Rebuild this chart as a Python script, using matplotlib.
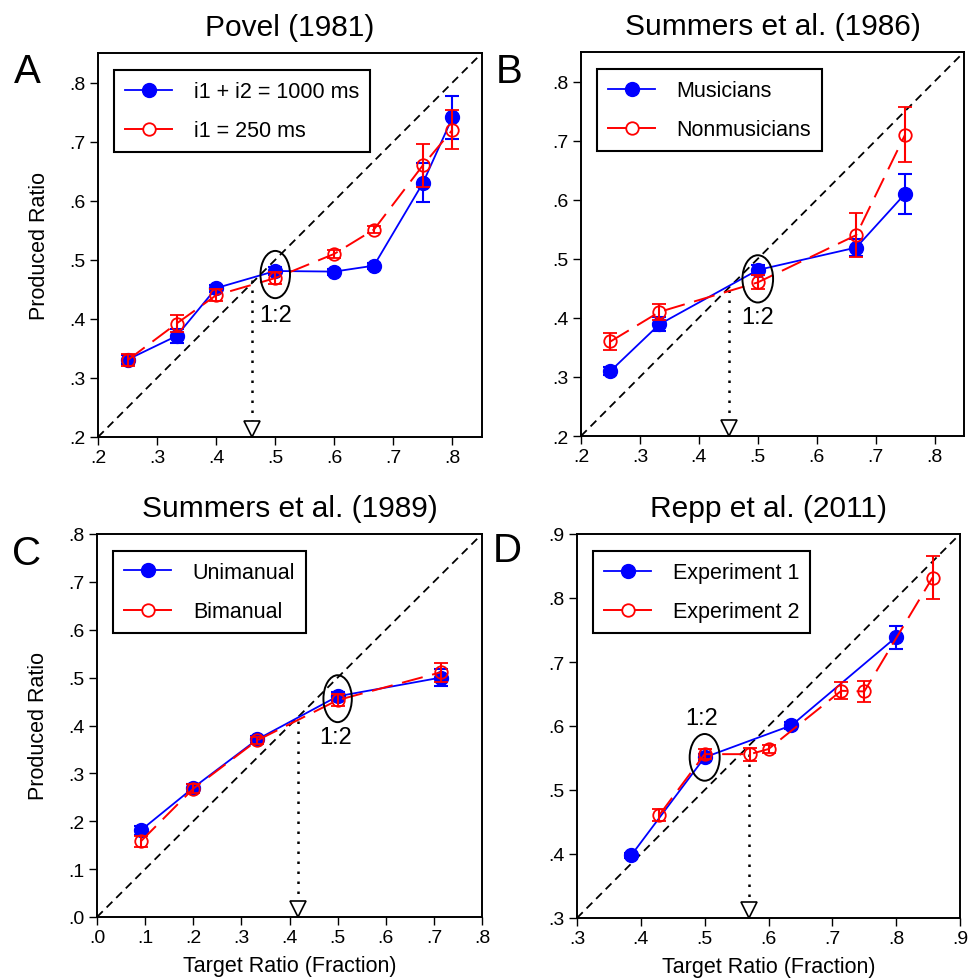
import matplotlib
matplotlib.use('Agg')
import matplotlib.pyplot as plt
from matplotlib.lines import Line2D
from matplotlib.patches import Ellipse
from matplotlib.ticker import FuncFormatter

plt.rcParams['font.family'] = ['Liberation Sans', 'DejaVu Sans']

# Panel A: Povel (1981)
povel_x = [0.25, 0.333, 0.4, 0.5, 0.6, 0.667, 0.75, 0.8]
povel_sum_y = [0.331, 0.371, 0.452, 0.481, 0.480, 0.490, 0.630, 0.741]
povel_sum_err = [0.008, 0.012, 0.006, 0.006, 0.005, 0.005, 0.033, 0.037]
povel_i1_y = [0.330, 0.392, 0.440, 0.469, 0.510, 0.551, 0.660, 0.720]
povel_i1_err = [0.010, 0.014, 0.010, 0.010, 0.007, 0.006, 0.036, 0.033]

# Panel B: Summers et al. (1986)
summers86_x = [0.25, 0.333, 0.5, 0.667, 0.75]
summers86_mus_y = [0.310, 0.389, 0.481, 0.519, 0.610]
summers86_mus_err = [0.007, 0.012, 0.008, 0.015, 0.034]
summers86_non_y = [0.360, 0.410, 0.460, 0.540, 0.710]
summers86_non_err = [0.015, 0.013, 0.012, 0.037, 0.047]

# Panel C: Summers et al. (1989)
summers89_x = [0.091, 0.2, 0.333, 0.5, 0.714]
summers89_uni_y = [0.181, 0.270, 0.371, 0.461, 0.500]
summers89_uni_err = [0.010, 0.008, 0.008, 0.010, 0.017]
summers89_bi_y = [0.158, 0.268, 0.369, 0.453, 0.511]
summers89_bi_err = [0.012, 0.010, 0.008, 0.012, 0.020]

# Panel D: Repp et al. (2011)
repp_exp1_x = [0.385, 0.5, 0.636, 0.8]
repp_exp1_y = [0.398, 0.551, 0.601, 0.739]
repp_exp1_err = [0.004, 0.006, 0.006, 0.018]
repp_exp2_x = [0.429, 0.5, 0.571, 0.6, 0.714, 0.75, 0.857]
repp_exp2_y = [0.461, 0.556, 0.556, 0.564, 0.655, 0.654, 0.832]
repp_exp2_err = [0.010, 0.008, 0.010, 0.006, 0.013, 0.017, 0.033]

titles = ['Povel (1981)', 'Summers et al. (1986)', 'Summers et al. (1989)', 'Repp et al. (2011)']
letters = ['A', 'B', 'C', 'D']
limits = [(0.2, 0.85), (0.2, 0.85), (0.0, 0.8), (0.3, 0.9)]
tick_ranges = [(0.2, 0.8), (0.2, 0.8), (0.0, 0.8), (0.3, 0.9)]
legend_labels = [('i1 + i2 = 1000 ms', 'i1 = 250 ms'),
                 ('Musicians', 'Nonmusicians'),
                 ('Unimanual', 'Bimanual'),
                 ('Experiment 1', 'Experiment 2')]

# where the produced curve crosses the identity line (dotted arrow)
cross_x = [0.460, 0.452, 0.417, 0.570]
cross_y = [0.465, 0.447, 0.410, 0.556]
# 1:2 ellipse centre / size and label position
ellipse_xy = [(0.5, 0.475), (0.5, 0.466), (0.5, 0.456), (0.5, 0.551)]
ellipse_wh = [(0.050, 0.080), (0.052, 0.080), (0.059, 0.098), (0.047, 0.073)]
label_12_xy = [(0.5, 0.406), (0.5, 0.401), (0.496, 0.376), (0.496, 0.612)]

series = [
    (povel_x, povel_sum_y, povel_sum_err, povel_x, povel_i1_y, povel_i1_err),
    (summers86_x, summers86_mus_y, summers86_mus_err, summers86_x, summers86_non_y, summers86_non_err),
    (summers89_x, summers89_uni_y, summers89_uni_err, summers89_x, summers89_bi_y, summers89_bi_err),
    (repp_exp1_x, repp_exp1_y, repp_exp1_err, repp_exp2_x, repp_exp2_y, repp_exp2_err),
]

BLUE = '#0000ff'
RED = '#ff0000'

fig = plt.figure(figsize=(9.74, 9.79), dpi=100)
W, H = 974, 979
# axes boxes in pixels: left, top, right, bottom
boxes = [(98, 54, 482, 438), (581, 53, 964, 437), (97, 535, 482, 918), (577, 535, 960, 919)]
letter_pos = [(14, 83), (496, 83), (12, 565), (493, 562)]


def fmt(v, pos):
    return ('%.1f' % v).lstrip('0')


for i, (l, t, r, b) in enumerate(boxes):
    ax = fig.add_axes([l / W, 1 - b / H, (r - l) / W, (b - t) / H])
    lo, hi = limits[i]
    ax.set_xlim(lo, hi)
    ax.set_ylim(lo, hi)
    t0, t1 = tick_ranges[i]
    n = int(round((t1 - t0) / 0.1))
    ticks = [t0 + 0.1 * k for k in range(n + 1)]
    ax.set_xticks(ticks)
    ax.set_yticks(ticks)
    ax.xaxis.set_major_formatter(FuncFormatter(fmt))
    ax.yaxis.set_major_formatter(FuncFormatter(fmt))
    ax.tick_params(direction='out', length=6, width=1, labelsize=14, pad=3)
    for sp in ax.spines.values():
        sp.set_linewidth(1.4)

    # identity line
    ax.plot([lo, hi], [lo, hi], color='black', lw=1.3, ls=(0, (4.5, 3)), zorder=1)

    # dotted drop line + open triangle
    ax.plot([cross_x[i], cross_x[i]], [cross_y[i], lo + 0.03 * (hi - lo)],
            color='black', lw=1.8, ls=(0, (1, 3)), zorder=1)
    ax.plot([cross_x[i]], [0.021], transform=ax.get_xaxis_transform(),
            marker='v', ms=11, mfc='white', mec='black', mew=1.2, clip_on=False, zorder=5)

    x1, y1, e1, x2, y2, e2 = series[i]
    ax.errorbar(x1, y1, yerr=e1, color=BLUE, lw=1.3, marker='o', ms=10,
                mfc=BLUE, mec=BLUE, elinewidth=1.5, capsize=5, capthick=1.5, zorder=3)
    ax.errorbar(x2, y2, yerr=e2, color=RED, lw=1.4, ls=(0, (11, 5)), marker='o', ms=9,
                mfc='none', mec=RED, mew=1.3, elinewidth=1.5, capsize=5, capthick=1.5, zorder=4)

    ex, ey = ellipse_xy[i]
    ew, eh = ellipse_wh[i]
    ax.add_patch(Ellipse((ex, ey), ew, eh, fill=False, edgecolor='black', lw=1.4, zorder=6))
    lx, ly = label_12_xy[i]
    ax.text(lx, ly, '1:2', fontsize=17, ha='center', va='center', zorder=6)

    h1 = Line2D([], [], color=BLUE, lw=1.3, marker='o', ms=10, mfc=BLUE, mec=BLUE)
    h2 = Line2D([], [], color=RED, lw=1.4, marker='o', ms=9, mfc='white', mec=RED, mew=1.3)
    leg = ax.legend([h1, h2], list(legend_labels[i]), loc='upper left',
                    bbox_to_anchor=(0.042, 0.955), borderaxespad=0, fontsize=15.5,
                    frameon=True, fancybox=False, framealpha=1, edgecolor='black',
                    handlelength=2.2, handletextpad=1.0, labelspacing=0.85,
                    borderpad=0.5)
    leg.get_frame().set_linewidth(1.5)

    ax.set_title(titles[i], fontsize=21.5, pad=13)
    fig.text(letter_pos[i][0] / W, 1 - letter_pos[i][1] / H, letters[i],
             fontsize=29, va='baseline', ha='left')

    if i in (0, 2):
        ax.set_ylabel('Produced Ratio', fontsize=15.5)
        ax.yaxis.set_label_coords(-0.125, 0.5)
    if i in (2, 3):
        ax.set_xlabel('Target Ratio (Fraction)', fontsize=15.5)
        ax.xaxis.set_label_coords(0.5, -0.1)

fig.savefig('out.png', dpi=100)
